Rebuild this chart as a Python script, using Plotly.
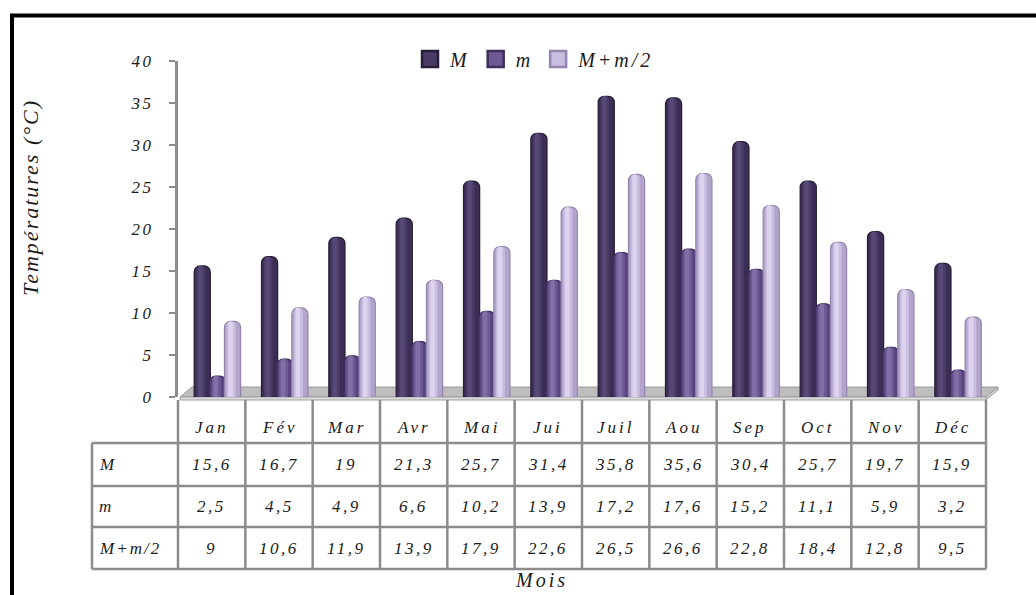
import plotly.graph_objects as go

# ---- data -------------------------------------------------------------
months = ["Jan", "Fév", "Mar", "Avr", "Mai", "Jui", "Juil", "Aou", "Sep", "Oct", "Nov", "Déc"]
t_max = [15.6, 16.7, 19, 21.3, 25.7, 31.4, 35.8, 35.6, 30.4, 25.7, 19.7, 15.9]
t_min = [2.5, 4.5, 4.9, 6.6, 10.2, 13.9, 17.2, 17.6, 15.2, 11.1, 5.9, 3.2]
t_mid = [9, 10.6, 11.9, 13.9, 17.9, 22.6, 26.5, 26.6, 22.8, 18.4, 12.8, 9.5]
series_names = ["M", "m", "M+m/2"]
y_ticks = [0, 5, 10, 15, 20, 25, 30, 35, 40]

# ---- styling ----------------------------------------------------------
FONT = "Liberation Serif"
TXT = "#1a1a1a"
GRID = "#8c8c8c"
# edge, body, highlight, bright highlight per series
palettes = [
    ("#271d38", "#3b2d53", "#4a3b66", "#574876"),
    ("#3f2e5e", "#5b4580", "#6f5a96", "#8070a6"),
    ("#9485ae", "#b3a4cb", "#c9bde0", "#ddd3ee"),
]
bar_w = 0.24
offsets = [-0.26, -0.03, 0.19]

FIG_W, FIG_H = 1036, 595
L, R, T, B = 178, 986, 61, 397


def px(x):
    return (x - L) / (R - L)


def py(y):
    return (B - y) / (B - T)


def fmt(v):
    return f"{v:g}".replace(".", ",")


def spaced(text, gap):
    # widen the glyph spacing of a label
    return f'<span style="letter-spacing:{gap}px">{text}</span>'


xs = list(range(len(months)))
fig = go.Figure()

# cylinders: a body bar plus narrower, lighter strips for the shading
for values, name, pal, off in zip([t_max, t_min, t_mid], series_names, palettes, offsets):
    edge, body, hi, hi2 = pal
    fig.add_trace(go.Bar(
        x=xs, y=values, name=name, width=bar_w, offset=off,
        marker=dict(color=body, line=dict(color=edge, width=1.2), cornerradius=6),
        legendgroup=name, showlegend=False, hoverinfo="skip",
    ))
    strips = [(0.55, 0.14, hi, 4), (0.28, 0.24, hi2, 2)]
    for frac, start, col, cr in strips:
        fig.add_trace(go.Bar(
            x=xs, y=values, width=bar_w * frac, offset=off + bar_w * start,
            marker=dict(color=col, line=dict(width=0), cornerradius=cr),
            legendgroup=name, showlegend=False, hoverinfo="skip",
        ))
    # square legend key for the series
    fig.add_trace(go.Scatter(
        x=[None], y=[None], mode="markers", name=spaced(name, 3), legendgroup=name,
        marker=dict(symbol="square", size=16, color=hi, line=dict(color=edge, width=2.5)),
        hoverinfo="skip",
    ))

shapes = []

# floor of the 3D plot area
floor_top = f"M {px(180)},{py(397)} L {px(192)},{py(387)} L {px(998)},{py(387)} L {px(986)},{py(397)} Z"
floor_front = f"M {px(180)},{py(397)} L {px(986)},{py(397)} L {px(986)},{py(400)} L {px(180)},{py(400)} Z"
floor_side = f"M {px(986)},{py(397)} L {px(998)},{py(387)} L {px(998)},{py(390)} L {px(986)},{py(400)} Z"
shapes.append(dict(type="path", path=floor_top, xref="paper", yref="paper",
                   fillcolor="#bdbdbd", line=dict(color="#9a9a9a", width=1), layer="below"))
shapes.append(dict(type="path", path=floor_front, xref="paper", yref="paper",
                   fillcolor="#dcdcdc", line=dict(color="#a0a0a0", width=1), layer="below"))
shapes.append(dict(type="path", path=floor_side, xref="paper", yref="paper",
                   fillcolor="#cfcfcf", line=dict(color="#a0a0a0", width=1), layer="below"))

# data table grid
col_edges = [L + i * (R - L) / len(months) for i in range(len(months) + 1)]
row_edges = [443, 486, 527, 569]
label_left = 92
for xe in col_edges:
    shapes.append(dict(type="line", xref="paper", yref="paper",
                       x0=px(xe), x1=px(xe), y0=py(400), y1=py(569),
                       line=dict(color=GRID, width=2.5)))
for ye in row_edges:
    shapes.append(dict(type="line", xref="paper", yref="paper",
                       x0=px(label_left), x1=px(R), y0=py(ye), y1=py(ye),
                       line=dict(color=GRID, width=2.5)))
shapes.append(dict(type="line", xref="paper", yref="paper",
                   x0=px(label_left), x1=px(label_left), y0=py(443), y1=py(569),
                   line=dict(color=GRID, width=2.5)))

# outer frame
shapes.append(dict(type="rect", xref="paper", yref="paper",
                   x0=px(12), x1=px(1060), y0=py(15.5), y1=py(620),
                   line=dict(color="black", width=4), fillcolor="rgba(0,0,0,0)"))

annotations = []
cell_font = dict(family=FONT, size=17, color=TXT, style="italic")

# month headers and table values
for i, mth in enumerate(months):
    annotations.append(dict(x=i, y=py(428), xref="x", yref="paper", text=spaced(mth, 3),
                            showarrow=False, font=cell_font, xanchor="center", yanchor="middle"))
row_centres = [464, 506, 548]
for values, name, yc in zip([t_max, t_min, t_mid], series_names, row_centres):
    annotations.append(dict(x=px(97), y=py(yc), xref="paper", yref="paper", text=spaced(name, 2),
                            showarrow=False, font=cell_font, xanchor="left", yanchor="middle"))
    for i, v in enumerate(values):
        annotations.append(dict(x=i, y=py(yc), xref="x", yref="paper", text=spaced(fmt(v), 2.5),
                                showarrow=False, font=cell_font, xanchor="center", yanchor="middle"))

# axis titles
annotations.append(dict(x=px(30), y=py(198), xref="paper", yref="paper",
                        text=spaced("Températures (°C)", 2), textangle=-90, showarrow=False,
                        font=dict(family=FONT, size=22, color=TXT, style="italic"),
                        xanchor="center", yanchor="middle"))
annotations.append(dict(x=px(541), y=py(580), xref="paper", yref="paper",
                        text=spaced("Mois", 3), showarrow=False,
                        font=dict(family=FONT, size=20, color=TXT, style="italic"),
                        xanchor="center", yanchor="middle"))

fig.update_layout(
    width=FIG_W, height=FIG_H,
    margin=dict(l=L, r=FIG_W - R, t=T, b=FIG_H - B, pad=0),
    paper_bgcolor="white", plot_bgcolor="rgba(0,0,0,0)",
    barmode="overlay",
    font=dict(family=FONT, color=TXT, style="italic"),
    showlegend=True,
    legend=dict(orientation="h", x=px(535), y=py(59), xanchor="center", yanchor="middle",
                font=dict(family=FONT, size=20, color=TXT, style="italic"),
                bgcolor="rgba(0,0,0,0)", itemwidth=30, traceorder="normal",
                itemsizing="trace"),
    xaxis=dict(range=[-0.5, len(months) - 0.5], showticklabels=False, showline=False,
               showgrid=False, zeroline=False, ticks=""),
    yaxis=dict(range=[0, 40], tickvals=y_ticks, ticktext=[spaced(str(t), 2.5) for t in y_ticks],
               showgrid=False, zeroline=False,
               showline=True, linecolor=GRID, linewidth=3,
               ticks="outside", ticklen=6, tickwidth=2, tickcolor=GRID,
               ticklabelstandoff=12,
               tickfont=dict(family=FONT, size=17, color=TXT, style="italic")),
    shapes=shapes,
    annotations=annotations,
)

fig.write_html("out.html")
